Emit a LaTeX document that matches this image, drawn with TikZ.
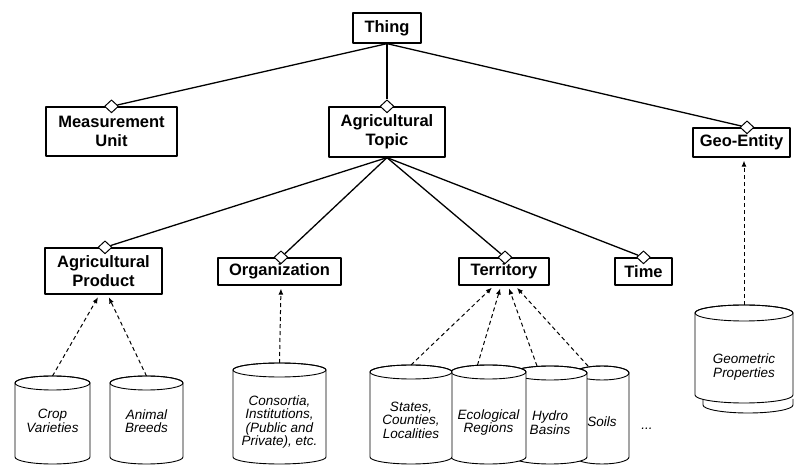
\documentclass[tikz,border=0pt]{standalone}
\usepackage{fontspec}
\setmainfont{Liberation Sans}
\usetikzlibrary{calc, positioning}
\usetikzlibrary{arrows.meta}
\usetikzlibrary{shapes.geometric}

\newcommand{\dbcyl}[7]{%
  \pgfmathsetmacro{\rx}{#5/2}
  \pgfmathsetmacro{\ytop}{#3-\ry}
  \pgfmathsetmacro{\ybot}{#4+\ry}
  \filldraw[dbline, fill=white] (#2-\rx,\ytop) -- (#2-\rx,\ybot)
      arc[start angle=180, end angle=360, x radius=\rx pt, y radius=\ry pt]
      -- (#2+\rx,\ytop)
      arc[start angle=0, end angle=180, x radius=\rx pt, y radius=\ry pt] -- cycle;
  \draw[dbline] (#2,\ytop) ellipse[x radius=\rx pt, y radius=\ry pt];
  \coordinate (#1 top) at (#2,#3);
  \node[dbtext] (#1) at (#2,#6) {#7};
}

\begin{document}
\begin{tikzpicture}[x=1pt, y=1pt, line join=round,
    cls/.style={draw, line width=1.3pt, inner sep=0pt, align=center,
        font=\bfseries\fontsize{16.5}{19}\selectfont},
    joint/.style={diamond, draw, fill=white, line width=1pt, inner sep=0pt,
        minimum width=14pt, minimum height=13pt},
    isa/.style={line width=1.3pt},
    inst/.style={-{Latex[length=6pt, width=5pt]}, line width=1pt,
        dash pattern=on 4pt off 3pt, shorten >=3pt},
    dbline/.style={line width=0.9pt},
    dbtext/.style={inner sep=0pt, align=center,
        font=\itshape\fontsize{13.5}{13.5}\selectfont}]
\useasboundingbox (0,0) rectangle (794,465);
\def\ry{7}

\node[cls, minimum width=68pt, minimum height=30pt] (thing) at (387,437) {Thing};
\node[cls, minimum width=131pt, minimum height=49pt] (unit) at (111.5,333.5) {Measurement\\Unit};
\node[cls, minimum width=116pt, minimum height=50pt] (topic) at (387,333) {Agricultural\\Topic};
\node[cls, minimum width=97pt, minimum height=29pt] (geo) at (741.5,322.5) {Geo-Entity};
\node[cls, minimum width=117pt, minimum height=46pt] (product) at (103.5,194) {Agricultural\\Product};
\node[cls, minimum width=123pt, minimum height=27pt] (org) at (279.5,193.5) {Organization};
\node[cls, minimum width=90pt, minimum height=27pt] (territory) at (504,193.5) {Territory};
\node[cls, minimum width=57pt, minimum height=27pt] (time) at (643.5,193.5) {Time};

\node[joint] (unitj) at (unit.north) {};
\node[joint] (topicj) at (topic.north) {};
\node[joint] (geoj) at ([xshift=5.5pt]geo.north) {};
\node[joint] (productj) at ([xshift=1.5pt]product.north) {};
\node[joint] (orgj) at ([xshift=1.5pt]org.north) {};
\node[joint] (territoryj) at ([xshift=1pt]territory.north) {};
\node[joint] (timej) at (time.north) {};

\draw[isa] (thing.south) -- (unitj);
\draw[isa] (thing.south) -- (topicj);
\draw[isa] (thing.south) -- (geoj);
\draw[isa] (topic.south) -- (productj);
\draw[isa] (topic.south) -- (orgj);
\draw[isa] (topic.south) -- (territoryj);
\draw[isa] (topic.south) -- (timej);

\dbcyl{crop}{52.5}{89}{1}{75}{44}{Crop\\Varieties}
\dbcyl{animal}{146.5}{89}{1}{73}{44}{Animal\\Breeds}
\dbcyl{consortia}{279.5}{102}{1}{93}{43}{Consortia,\\Institutions,\\(Public and\\Private), etc.}
\dbcyl{soils}{602}{99}{1}{54}{43}{Soils}
\dbcyl{hydro}{550}{99}{1}{74}{42.5}{Hydro\\Basins}
\dbcyl{eco}{488.5}{100}{1}{75}{42.5}{Ecological\\Regions}
\dbcyl{states}{411}{100}{1}{82}{45}{States,\\Counties,\\Localities}
\node[dbtext] (more) at (647,36) {...};

\def\ry{8}
\filldraw[dbline, fill=white] (703,66) -- (703,60)
    arc[start angle=180, end angle=360, x radius=45pt, y radius=8pt] -- (793,66);
\dbcyl{geom}{744}{160}{62}{98}{98}{Geometric\\Properties}

\draw[inst] (crop top) -- ([xshift=-4pt]product.south);
\draw[inst] (animal top) -- ([xshift=4pt]product.south);
\draw[inst] (consortia top) -- ([xshift=1.5pt]org.south);
\draw[inst] (states top) -- ([xshift=-10pt]territory.south);
\draw[inst] ([xshift=-11pt]eco top) -- ([xshift=-3pt]territory.south);
\draw[inst] ([xshift=-13pt]hydro top) -- ([xshift=4pt]territory.south);
\draw[inst] ([xshift=-14pt]soils top) -- ([xshift=11pt]territory.south);
\draw[inst] (geom top) -- ([xshift=2.5pt]geo.south);
\end{tikzpicture}
\end{document}
